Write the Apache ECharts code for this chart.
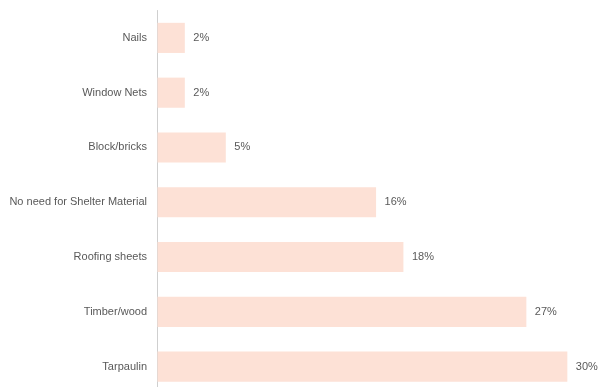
<!DOCTYPE html>
<html>
<head>
<meta charset="utf-8">
<script src="https://cdn.jsdelivr.net/npm/echarts@6/dist/echarts.min.js"></script>
<style>
  html, body { margin: 0; padding: 0; background: #fff; }
  #chart { width: 603px; height: 387px; }
</style>
</head>
<body>
<div id="chart"></div>
<script>
// Shelter material needs, share of households (%)
const categories = [
  'Nails',
  'Window Nets',
  'Block/bricks',
  'No need for Shelter Material',
  'Roofing sheets',
  'Timber/wood',
  'Tarpaulin'
];
const values = [2, 2, 5, 16, 18, 27, 30];

const chart = echarts.init(document.getElementById('chart'), null, { renderer: 'canvas' });
const labelFont = '"Liberation Sans", Arial, sans-serif';

chart.setOption({
  animation: false,
  grid: {
    left: 157.5, right: 22, top: 10.5, bottom: -7,
    containLabel: false,
    outerBoundsMode: 'none'
  },
  xAxis: {
    type: 'value',
    min: 0,
    max: 31,
    show: false
  },
  yAxis: {
    type: 'category',
    inverse: true,
    data: categories,
    axisLine: { show: true, lineStyle: { color: '#cfcfcf', width: 1 } },
    axisTick: { show: false },
    axisLabel: {
      margin: 10.5,
      color: '#595959',
      fontSize: 11,
      fontFamily: labelFont
    }
  },
  series: [{
    type: 'bar',
    data: values,
    barCategoryGap: '45%',
    itemStyle: { color: '#fde1d6' },
    label: {
      show: true,
      position: 'right',
      distance: 8.5,
      formatter: '{c}%',
      color: '#595959',
      fontSize: 11,
      fontFamily: labelFont
    }
  }]
});
</script>
</body>
</html>
